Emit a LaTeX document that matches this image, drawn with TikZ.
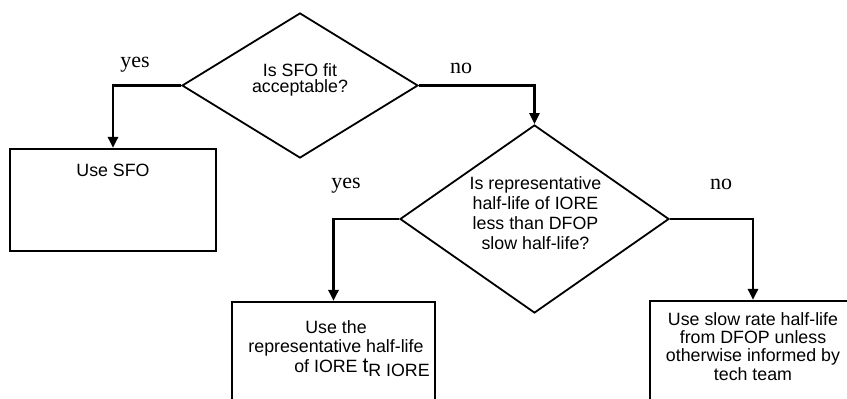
\documentclass[tikz,border=0pt]{standalone}
\usepackage{fontspec}
\usetikzlibrary{shapes.geometric,arrows.meta}
\newfontfamily\boxfont{Liberation Sans}
\newfontfamily\labfont{Liberation Serif}
\tikzset{
  decision/.style={diamond, draw, line width=1.8pt, inner sep=0pt, shape aspect=1.4},
  box/.style={rectangle, draw, line width=2.2pt, inner sep=0pt},
  boxtext/.style={anchor=north, inner sep=0pt, align=center, font=\boxfont\fontsize{17.8}{20}\selectfont},
  lab/.style={anchor=base, inner sep=0pt, font=\labfont\fontsize{22}{24}\selectfont},
  flow/.style={line width=2.8pt, -{Triangle[width=10pt,length=11pt]}},
}
\begin{document}
\begin{tikzpicture}[x=1pt,y=-1pt]
\useasboundingbox (0,0) rectangle (847,399);
\clip (0,0) rectangle (847,399);
% decisions
\node[decision, minimum width=236pt, minimum height=145pt] (d1) at (300,85.5) {};
\node[boxtext, font=\boxfont\fontsize{17.8}{16.5}\selectfont] (t1) at (300,63) {Is SFO fit\\acceptable?};
\node[decision, minimum width=269pt, minimum height=188pt] (d2) at (534.5,219) {};
\node[boxtext] (t2) at (535.5,176) {Is representative\\half-life of IORE\\less than DFOP\\slow half-life?};
% boxes
\node[box, minimum width=206pt, minimum height=102pt] (b1) at (113,200) {};
\node[boxtext] (t3) at (113,164) {Use SFO};
\node[box, minimum width=203pt, minimum height=130pt] (b2) at (333.5,367) {};
\node[boxtext, font=\boxfont\fontsize{17.8}{19.5}\selectfont] (t4) at (336,320) {Use the\\representative half-life\\\hspace*{52pt}of IORE {\fontsize{21}{19.5}\selectfont t}\raisebox{-4pt}{R IORE}};
\node[box, minimum width=206pt, minimum height=130pt] (b3) at (753,366) {};
\node[boxtext, font=\boxfont\fontsize{17.8}{18.4}\selectfont] (t5) at (753,312) {Use slow rate half-life\\from DFOP unless\\otherwise informed by\\tech team};
% connectors
\draw[flow] (d1.west) -| (b1.north);
\draw[flow] (d1.east) -| (d2.north);
\draw[flow] (d2.west) -| (b2.north);
\draw[flow] (d2.east) -| (b3.north);
% labels
\node[lab] (y1) at (135,67) {yes};
\node[lab] (n1) at (461,73) {no};
\node[lab] (y2) at (346,188) {yes};
\node[lab] (n2) at (721,189) {no};
\end{tikzpicture}
\end{document}
